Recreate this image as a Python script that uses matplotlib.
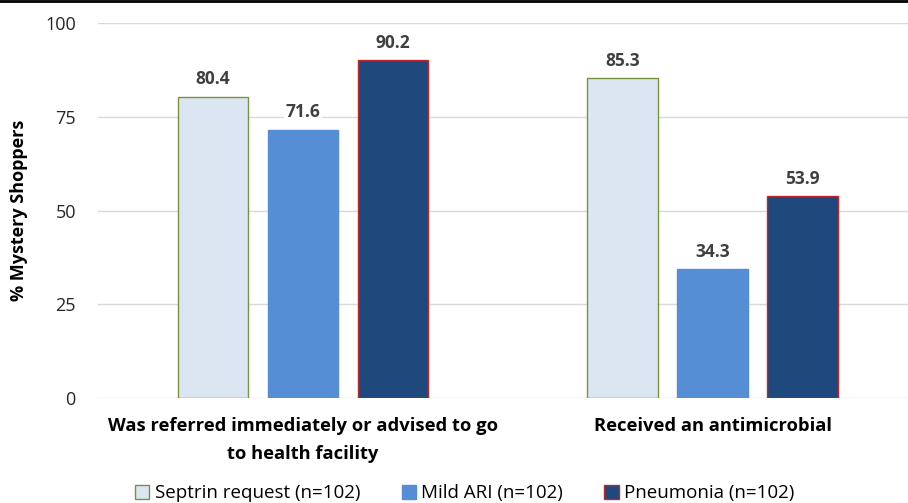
import matplotlib.pyplot as plt
import numpy as np
from matplotlib.lines import Line2D

categories = ['Was referred immediately or advised to go\nto health facility', 'Received an antimicrobial']
series = ['Septrin request (n=102)', 'Mild ARI (n=102)', 'Pneumonia (n=102)']
values = [[80.4, 85.3], [71.6, 34.3], [90.2, 53.9]]

faces = ['#DCE6F2', '#558ED5', '#1F497D']
edges = ['#77933C', '#558ED5', '#C0262D']

plt.rcParams['font.family'] = ['Open Sans', 'DejaVu Sans']

fig = plt.figure(figsize=(9.08, 5.03), dpi=100)
ax = fig.add_axes([0.108, 0.2087, 0.892, 0.7453])

x = np.arange(len(categories))
offsets = [-0.2195, 0, 0.2195]
width = 0.173
for i in range(3):
    bars = ax.bar(x + offsets[i], values[i], width, color=faces[i], edgecolor=edges[i],
                  linewidth=1, label=series[i], zorder=3)
    for b, v in zip(bars, values[i]):
        ax.text(b.get_x() + b.get_width() / 2, v + 2.2, f'{v:.1f}', ha='center', va='bottom',
                fontsize=12.5, fontweight='bold', color='#404040', zorder=4,
                bbox=dict(facecolor='white', edgecolor='none', pad=1))

ax.set_xlim(-0.5, 1.476)
ax.set_ylim(0, 100)
ax.set_yticks([0, 25, 50, 75, 100])
ax.tick_params(axis='y', length=0, labelsize=13, pad=16, labelcolor='#262626')
ax.tick_params(axis='x', length=0, pad=14)
ax.set_xticks(x)
ax.set_xticklabels(categories, fontsize=13.2, fontweight='bold', linespacing=1.65)
ax.yaxis.grid(True, color='#D9D9D9', linewidth=1, zorder=0)
for s in ax.spines.values():
    s.set_visible(False)
ax.set_ylabel('% Mystery Shoppers', fontsize=13, fontweight='bold')
ax.yaxis.set_label_coords(-0.087, 0.5)

fig.legend(loc='lower center', bbox_to_anchor=(0.512, -0.032), ncol=3, frameon=False,
           fontsize=13.5, handlelength=0.75, handleheight=0.75, handletextpad=0.3,
           columnspacing=2.2)

fig.add_artist(Line2D([0, 1], [0.999, 0.999], color='black', linewidth=2, transform=fig.transFigure))

fig.savefig('out.png', dpi=100)
